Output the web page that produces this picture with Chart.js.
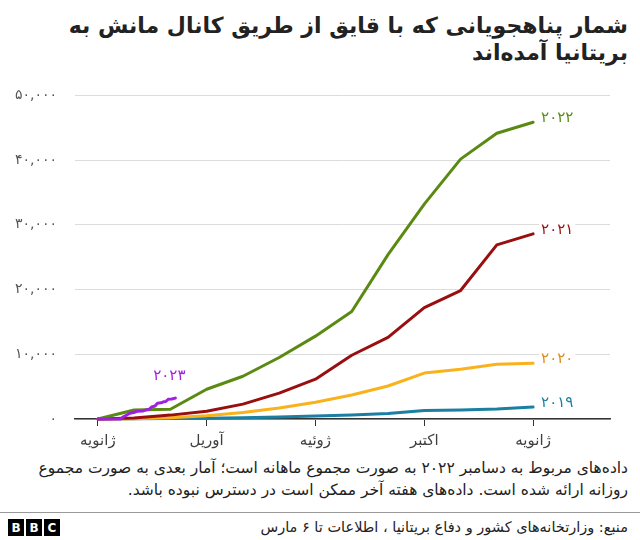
<!DOCTYPE html>
<html lang="fa">
<head>
<meta charset="utf-8">
<script src="https://cdn.jsdelivr.net/npm/chart.js@4/dist/chart.umd.min.js"></script>
<style>
  body { margin: 0; width: 640px; height: 540px; background: #fff; position: relative; overflow: hidden; font-family: 'DejaVu Sans', sans-serif; color: #222; }
  #title { position: absolute; right: 12px; top: 12px; font-size: 22px; font-weight: bold; line-height: 27px; text-align: right; }
  #chart { position: absolute; left: 0; top: 69px; }
  #note { position: absolute; right: 12px; top: 457px; font-size: 15.5px; line-height: 22px; text-align: right; }
  #rule { position: absolute; left: 0; right: 0; top: 512px; height: 1px; background: #999; }
  #source { position: absolute; right: 12px; top: 517px; font-size: 14.5px; line-height: 20px; }
  #logo { position: absolute; left: 8px; top: 519px; display: flex; gap: 2px; }
  #logo span { width: 16px; height: 17px; background: #000; color: #fff; font: bold 12px 'DejaVu Sans', sans-serif; display: flex; align-items: center; justify-content: center; }
</style>
</head>
<body>
<div id="title" dir="rtl">شمار پناهجویانی که با قایق از طریق کانال مانش به<br>بریتانیا آمده‌اند</div>
<canvas id="chart" width="640" height="386"></canvas>
<div id="note" dir="rtl">داده‌های مربوط به دسامبر ۲۰۲۲ به صورت مجموع ماهانه است؛ آمار بعدی به صورت مجموع<br>روزانه ارائه شده است. داده‌های هفته آخر ممکن است در دسترس نبوده باشد.</div>
<div id="rule"></div>
<div id="source" dir="rtl">منبع: وزارتخانه‌های کشور و دفاع بریتانیا ، اطلاعات تا ۶ مارس</div>
<div id="logo"><span>B</span><span>B</span><span>C</span></div>

<script>
// ── Data ──────────────────────────────────────────────────────────────────────
// cumulative crossings at start of Jan (0) and end of each month (1..12)
const values2019 = [0, 30, 60, 100, 200, 300, 450, 600, 850, 1300, 1400, 1550, 1850];
const values2020 = [0, 50, 200, 500, 1000, 1700, 2600, 3700, 5100, 7100, 7700, 8450, 8600];
const values2021 = [0, 150, 600, 1200, 2300, 4000, 6150, 9850, 12600, 17200, 19850, 26900, 28600];
const values2022 = [0, 1400, 1500, 4600, 6600, 9500, 12800, 16600, 25400, 33200, 40150, 44150, 45850];
// 2023: daily cumulative, day of year
const days2023   = [0, 19, 21, 25, 27, 30, 33, 38, 40, 43, 45, 48, 50, 53, 55, 57, 59, 62, 65];
const values2023 = [0, 0, 300, 700, 900, 1000, 1200, 1250, 1380, 1500, 1850, 2000, 2450, 2500, 2650, 2700, 3050, 3100, 3230];

const yearLabels = ['۲۰۲۳', '۲۰۲۲', '۲۰۲۱', '۲۰۲۰', '۲۰۱۹'];
const lineColors = ['#a020e0', '#5a8a12', '#990f0f', '#f9b21c', '#1a7fa0'];
const labelColors = ['#a020e0', '#5a8a12', '#990f0f', '#dc8a1c', '#1a7fa0'];

const tickMonths = [0, 3, 6, 9, 12];
const monthLabels = ['ژانویه', 'آوریل', 'ژوئیه', 'اکتبر', 'ژانویه'];
const yTicks = [0, 10000, 20000, 30000, 40000, 50000];

// ── Helpers ───────────────────────────────────────────────────────────────────
const FA = '۰۱۲۳۴۵۶۷۸۹';
const toFa = n => n.toLocaleString('en-US').replace(/\d/g, d => FA[d]);
const monthly = vals => vals.map((v, i) => ({ x: i, y: v }));
const daily = (days, vals) => days.map((d, i) => ({ x: d * 12 / 365, y: vals[i] }));

const series = [
  daily(days2023, values2023),
  monthly(values2022),
  monthly(values2021),
  monthly(values2020),
  monthly(values2019),
];

// ── End labels ────────────────────────────────────────────────────────────────
const endLabels = {
  id: 'endLabels',
  afterDatasetsDraw(chart) {
    const ctx = chart.ctx;
    ctx.save();
    ctx.font = '15px "DejaVu Sans"';
    ctx.textBaseline = 'middle';
    chart.data.datasets.forEach((ds, i) => {
      const pts = chart.getDatasetMeta(i).data;
      const p = pts[pts.length - 1];
      let x = p.x + 8, y = p.y - 4;
      ctx.textAlign = 'left';
      if (i === 0) { x = p.x - 6; y = p.y - 22; ctx.textAlign = 'center'; }
      const w = ctx.measureText(ds.label).width;
      ctx.fillStyle = '#fff';
      const bx = ctx.textAlign === 'center' ? x - w / 2 - 2 : x - 2;
      ctx.fillRect(bx, y - 9, w + 4, 18);
      ctx.fillStyle = labelColors[i];
      ctx.fillText(ds.label, x, y);
    });
    ctx.restore();
  }
};

// ── Chart ─────────────────────────────────────────────────────────────────────
new Chart(document.getElementById('chart'), {
  type: 'line',
  data: {
    datasets: series.map((d, i) => ({
      label: yearLabels[i],
      data: d,
      borderColor: lineColors[i],
      borderWidth: 3,
      pointRadius: 0,
      tension: 0,
      borderCapStyle: 'round',
      borderJoinStyle: 'round',
      clip: false,
    }))
  },
  options: {
    responsive: false,
    animation: false,
    devicePixelRatio: 1,
    layout: { padding: { top: 3, right: 30, left: 0, bottom: 0 } },
    plugins: { legend: { display: false }, tooltip: { enabled: false } },
    scales: {
      x: {
        type: 'linear',
        min: -0.63,
        max: 14.12,
        afterFit: s => { s.height = 36; },
        afterBuildTicks: s => { s.ticks = tickMonths.map(v => ({ value: v })); },
        ticks: {
          autoSkip: false,
          maxRotation: 0,
          padding: 6,
          color: '#404040',
          font: { family: 'DejaVu Sans', size: 15 },
          callback: v => monthLabels[tickMonths.indexOf(v)]
        },
        grid: { drawOnChartArea: false, drawTicks: true, tickLength: 7, color: '#333', tickWidth: 1 },
        border: { display: true, color: '#333', width: 1.5 }
      },
      y: {
        min: 0,
        max: 50000,
        afterFit: s => { s.width = 75; },
        afterBuildTicks: s => { s.ticks = yTicks.map(v => ({ value: v })); },
        ticks: {
          padding: 18,
          color: '#555',
          font: { family: 'DejaVu Sans', size: 14 },
          callback: v => toFa(v)
        },
        grid: { drawTicks: false, color: '#dcdcdc', lineWidth: 1 },
        border: { display: false }
      }
    }
  },
  plugins: [endLabels]
});
</script>
</body>
</html>
